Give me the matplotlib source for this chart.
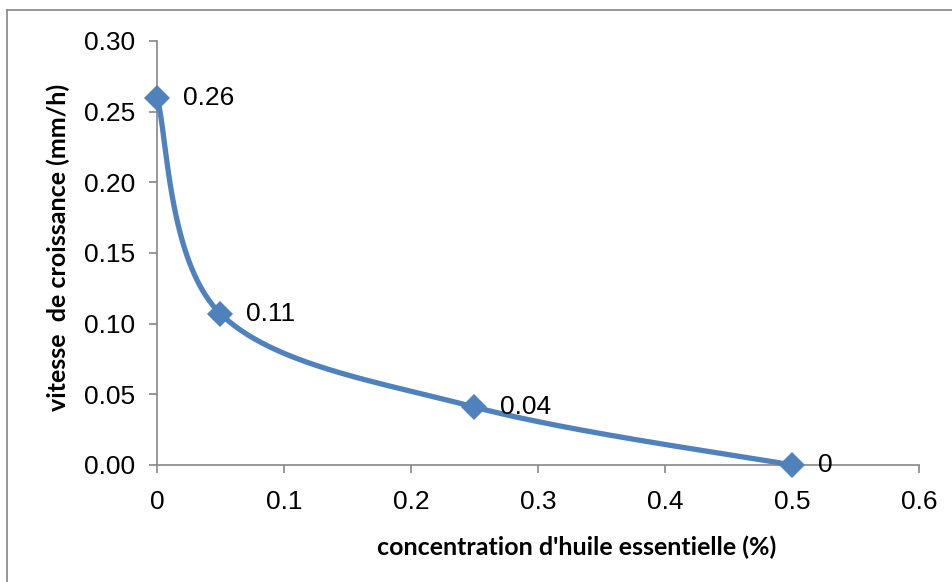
import numpy as np
import matplotlib
matplotlib.use("Agg")
import matplotlib.pyplot as plt
from matplotlib.lines import Line2D

# Data
concentration = [0.0, 0.05, 0.25, 0.5]
vitesse = [0.26, 0.107, 0.041, 0.0]
labels = ["0.26", "0.11", "0.04", "0"]
x_ticks = [0, 0.1, 0.2, 0.3, 0.4, 0.5, 0.6]
x_ticklabels = ["0", "0.1", "0.2", "0.3", "0.4", "0.5", "0.6"]
y_ticks = [0.0, 0.05, 0.10, 0.15, 0.20, 0.25, 0.30]
y_ticklabels = ["0.00", "0.05", "0.10", "0.15", "0.20", "0.25", "0.30"]

W, H = 953, 582
fig = plt.figure(figsize=(W / 100, H / 100), dpi=100)
ax = fig.add_axes([157 / W, 1 - 465 / H, (919 - 157) / W, (465 - 41) / H])

ax.set_xlim(0, 0.6)
ax.set_ylim(0, 0.30)

color = "#4F81BD"
gray = "#868686"

# Excel-like smoothed line (Catmull-Rom Bezier computed in display space)
fig.canvas.draw()
pts = ax.transData.transform(np.column_stack([concentration, vitesse]))
n = len(pts)
curve = []
t = np.linspace(0, 1, 80)
for i in range(n - 1):
    p0 = pts[i - 1] if i > 0 else pts[i]
    p1 = pts[i]
    p2 = pts[i + 1]
    p3 = pts[i + 2] if i + 2 < n else pts[i + 1]
    c1 = p1 + (p2 - p0) / 6.0
    c2 = p2 - (p3 - p1) / 6.0
    seg = ((1 - t) ** 3)[:, None] * p1 + (3 * (1 - t) ** 2 * t)[:, None] * c1 \
        + (3 * (1 - t) * t ** 2)[:, None] * c2 + (t ** 3)[:, None] * p2
    curve.append(seg)
curve = np.vstack(curve)
curve_data = ax.transData.inverted().transform(curve)
ax.plot(curve_data[:, 0], curve_data[:, 1], color=color, lw=3.8,
        solid_capstyle="round", solid_joinstyle="round", clip_on=False, zorder=3)
ax.plot(concentration, vitesse, linestyle="none", marker="D", markersize=13,
        color=color, markeredgewidth=0, clip_on=False, zorder=4)

for xv, yv, lab in zip(concentration, vitesse, labels):
    ax.annotate(lab, (xv, yv), xytext=(18.5, 0), textcoords="offset points",
                ha="left", va="center", fontsize=19, family="Liberation Sans",
                color="black", zorder=5)

for s in ["top", "right"]:
    ax.spines[s].set_visible(False)
for s in ["left", "bottom"]:
    ax.spines[s].set_color(gray)
    ax.spines[s].set_linewidth(1.2)

ax.set_xticks(x_ticks)
ax.set_xticklabels(x_ticklabels)
ax.set_yticks(y_ticks)
ax.set_yticklabels(y_ticklabels)
ax.tick_params(axis="both", direction="out", length=6, width=1.2, color=gray,
               labelsize=19, labelcolor="black")
ax.tick_params(axis="x", pad=12)
ax.tick_params(axis="y", pad=10)
for lab in ax.get_xticklabels() + ax.get_yticklabels():
    lab.set_family("Liberation Sans")

fig.text(577 / W, 1 - 547 / H, "concentration d'huile essentielle (%)",
         ha="center", va="center", fontsize=18, fontweight="bold", family="Lato")
fig.text(58 / W, 1 - 247 / H, "vitesse  de croissance (mm/h)",
         ha="center", va="center", rotation=90, fontsize=18, fontweight="bold",
         family="Lato")

# Outer chart border (left and top edges visible)
fig.add_artist(Line2D([7 / W, 7 / W], [0, 1 - 10 / H], transform=fig.transFigure,
                      color=gray, lw=1.2))
fig.add_artist(Line2D([7 / W, 1], [1 - 10 / H, 1 - 10 / H], transform=fig.transFigure,
                      color=gray, lw=1.2))

fig.savefig("out.png", dpi=100, facecolor="white")
